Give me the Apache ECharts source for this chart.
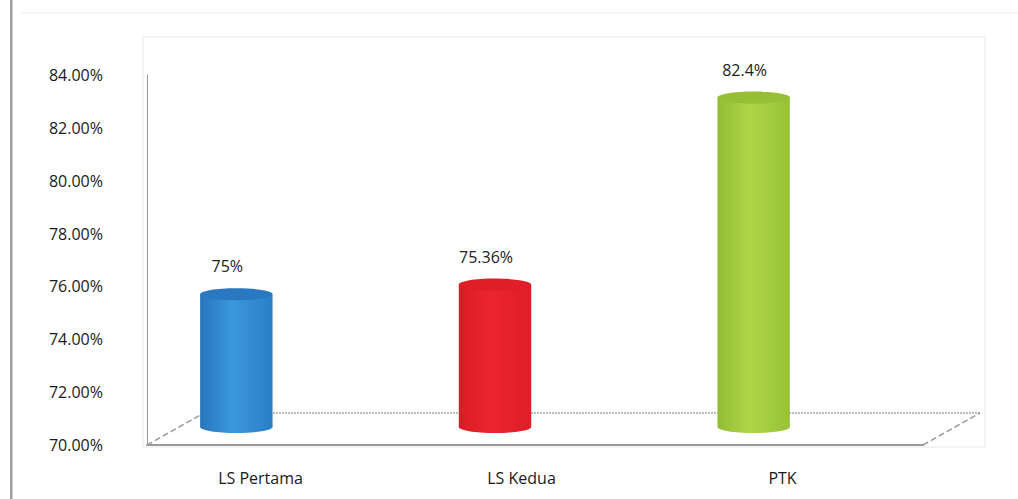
<!DOCTYPE html>
<html><head><meta charset="utf-8">
<script src="https://cdn.jsdelivr.net/npm/echarts@6/dist/echarts.min.js"></script>
<style>html,body{margin:0;padding:0;background:#fff;}#c{width:1018px;height:499px;}</style>
</head><body><div id="c"></div>
<script>
const categories = ['LS Pertama', 'LS Kedua', 'PTK'];
const values = [75, 75.36, 82.4];
const yTicks = [70, 72, 74, 76, 78, 80, 82, 84];
const bodyColors = [['#2877bd', '#3b98dc', '#2a7fc6'], ['#d91c25', '#ec2430', '#de1e27'], ['#93bd33', '#add546', '#98c237']];
const topColors = ['#2a78bf', '#e01e27', '#97bf36'];

const chart = echarts.init(document.getElementById('c'), null, {renderer: 'svg'});
const FONT = '"Open Sans", sans-serif';
chart.setOption({
  animation: false,
  grid: [
    {left: 147, right: 95, top: 75, bottom: 54},
    {left: 130, right: 105, top: 75, bottom: 54},
    {left: 107, right: 135, top: 55, bottom: 72}
  ],
  xAxis: [
    {gridIndex: 0, type: 'category', data: categories, axisLine: {lineStyle: {color: '#9a9a9a', width: 2}}, axisTick: {show: false}, axisLabel: {show: false}},
    {gridIndex: 1, type: 'category', data: categories, axisLine: {show: false}, axisTick: {show: false},
      axisLabel: {margin: 25, fontFamily: FONT, fontSize: 16, color: '#1a1a1a'}},
    {gridIndex: 2, type: 'category', data: categories, show: false}
  ],
  yAxis: [
    {gridIndex: 0, type: 'value', min: 70, max: 84, interval: 2, splitLine: {show: false},
      axisLine: {show: true, lineStyle: {color: '#9a9a9a', width: 1}}, axisTick: {show: false},
      axisLabel: {margin: 44, fontFamily: FONT, fontSize: 16, color: '#1a1a1a', formatter: v => v.toFixed(2) + '%'}},
    {gridIndex: 1, type: 'value', min: 70, max: 84, show: false},
    {gridIndex: 2, type: 'value', min: 70, max: 84, show: false}
  ],
  graphic: [
    {type: 'rect', z: -10, shape: {x: 143, y: 37, width: 842, height: 410}, style: {fill: 'none', stroke: '#e8e8e8', lineWidth: 1}},
    {type: 'line', z: -5, shape: {x1: 204, y1: 413, x2: 980, y2: 413}, style: {stroke: '#a8a8a8', lineWidth: 1.5, lineDash: [2, 1]}},
    {type: 'line', z: -5, shape: {x1: 147, y1: 445, x2: 204, y2: 413}, style: {stroke: '#999', lineWidth: 1.5, lineDash: [6, 3]}},
    {type: 'line', z: -5, shape: {x1: 923, y1: 445, x2: 980, y2: 413}, style: {stroke: '#999', lineWidth: 1.5, lineDash: [6, 3]}},
    {type: 'rect', z: -10, shape: {x: 10, y: 0, width: 2.5, height: 499}, style: {fill: '#a0a0a0'}},
    {type: 'line', z: -10, shape: {x1: 20, y1: 13, x2: 1018, y2: 13}, style: {stroke: '#f0f0f0', lineWidth: 1}}
  ],
  series: [{
    type: 'custom',
    xAxisIndex: 2, yAxisIndex: 2,
    data: categories.map((c, i) => [i, values[i]]),
    renderItem: function (params, api) {
      const idx = api.value(0), v = api.value(1);
      const top = api.coord([idx, v]);
      const base = api.coord([idx, 70]);
      const w = api.size([1, 0])[0] * 0.28;
      const rx = w / 2, ry = 6;
      const cx = top[0];
      const bc = bodyColors[idx];
      const grad = new echarts.graphic.LinearGradient(0, 0, 1, 0, [
        {offset: 0, color: bc[0]}, {offset: 0.45, color: bc[1]}, {offset: 1, color: bc[2]}
      ]);
      return {
        type: 'group',
        children: [
          {type: 'rect', shape: {x: cx - rx, y: top[1], width: w, height: base[1] - top[1]}, style: {fill: grad}},
          {type: 'ellipse', shape: {cx: cx, cy: base[1], rx: rx, ry: ry}, style: {fill: grad}},
          {type: 'ellipse', shape: {cx: cx, cy: top[1], rx: rx, ry: ry}, style: {fill: topColors[idx]}},
          {type: 'text', style: {text: v + '%', x: cx - 9, y: top[1] - 28, align: 'center', verticalAlign: 'middle',
            font: '16px ' + FONT, fill: '#222'}}
        ]
      };
    }
  }]
});
</script></body></html>
